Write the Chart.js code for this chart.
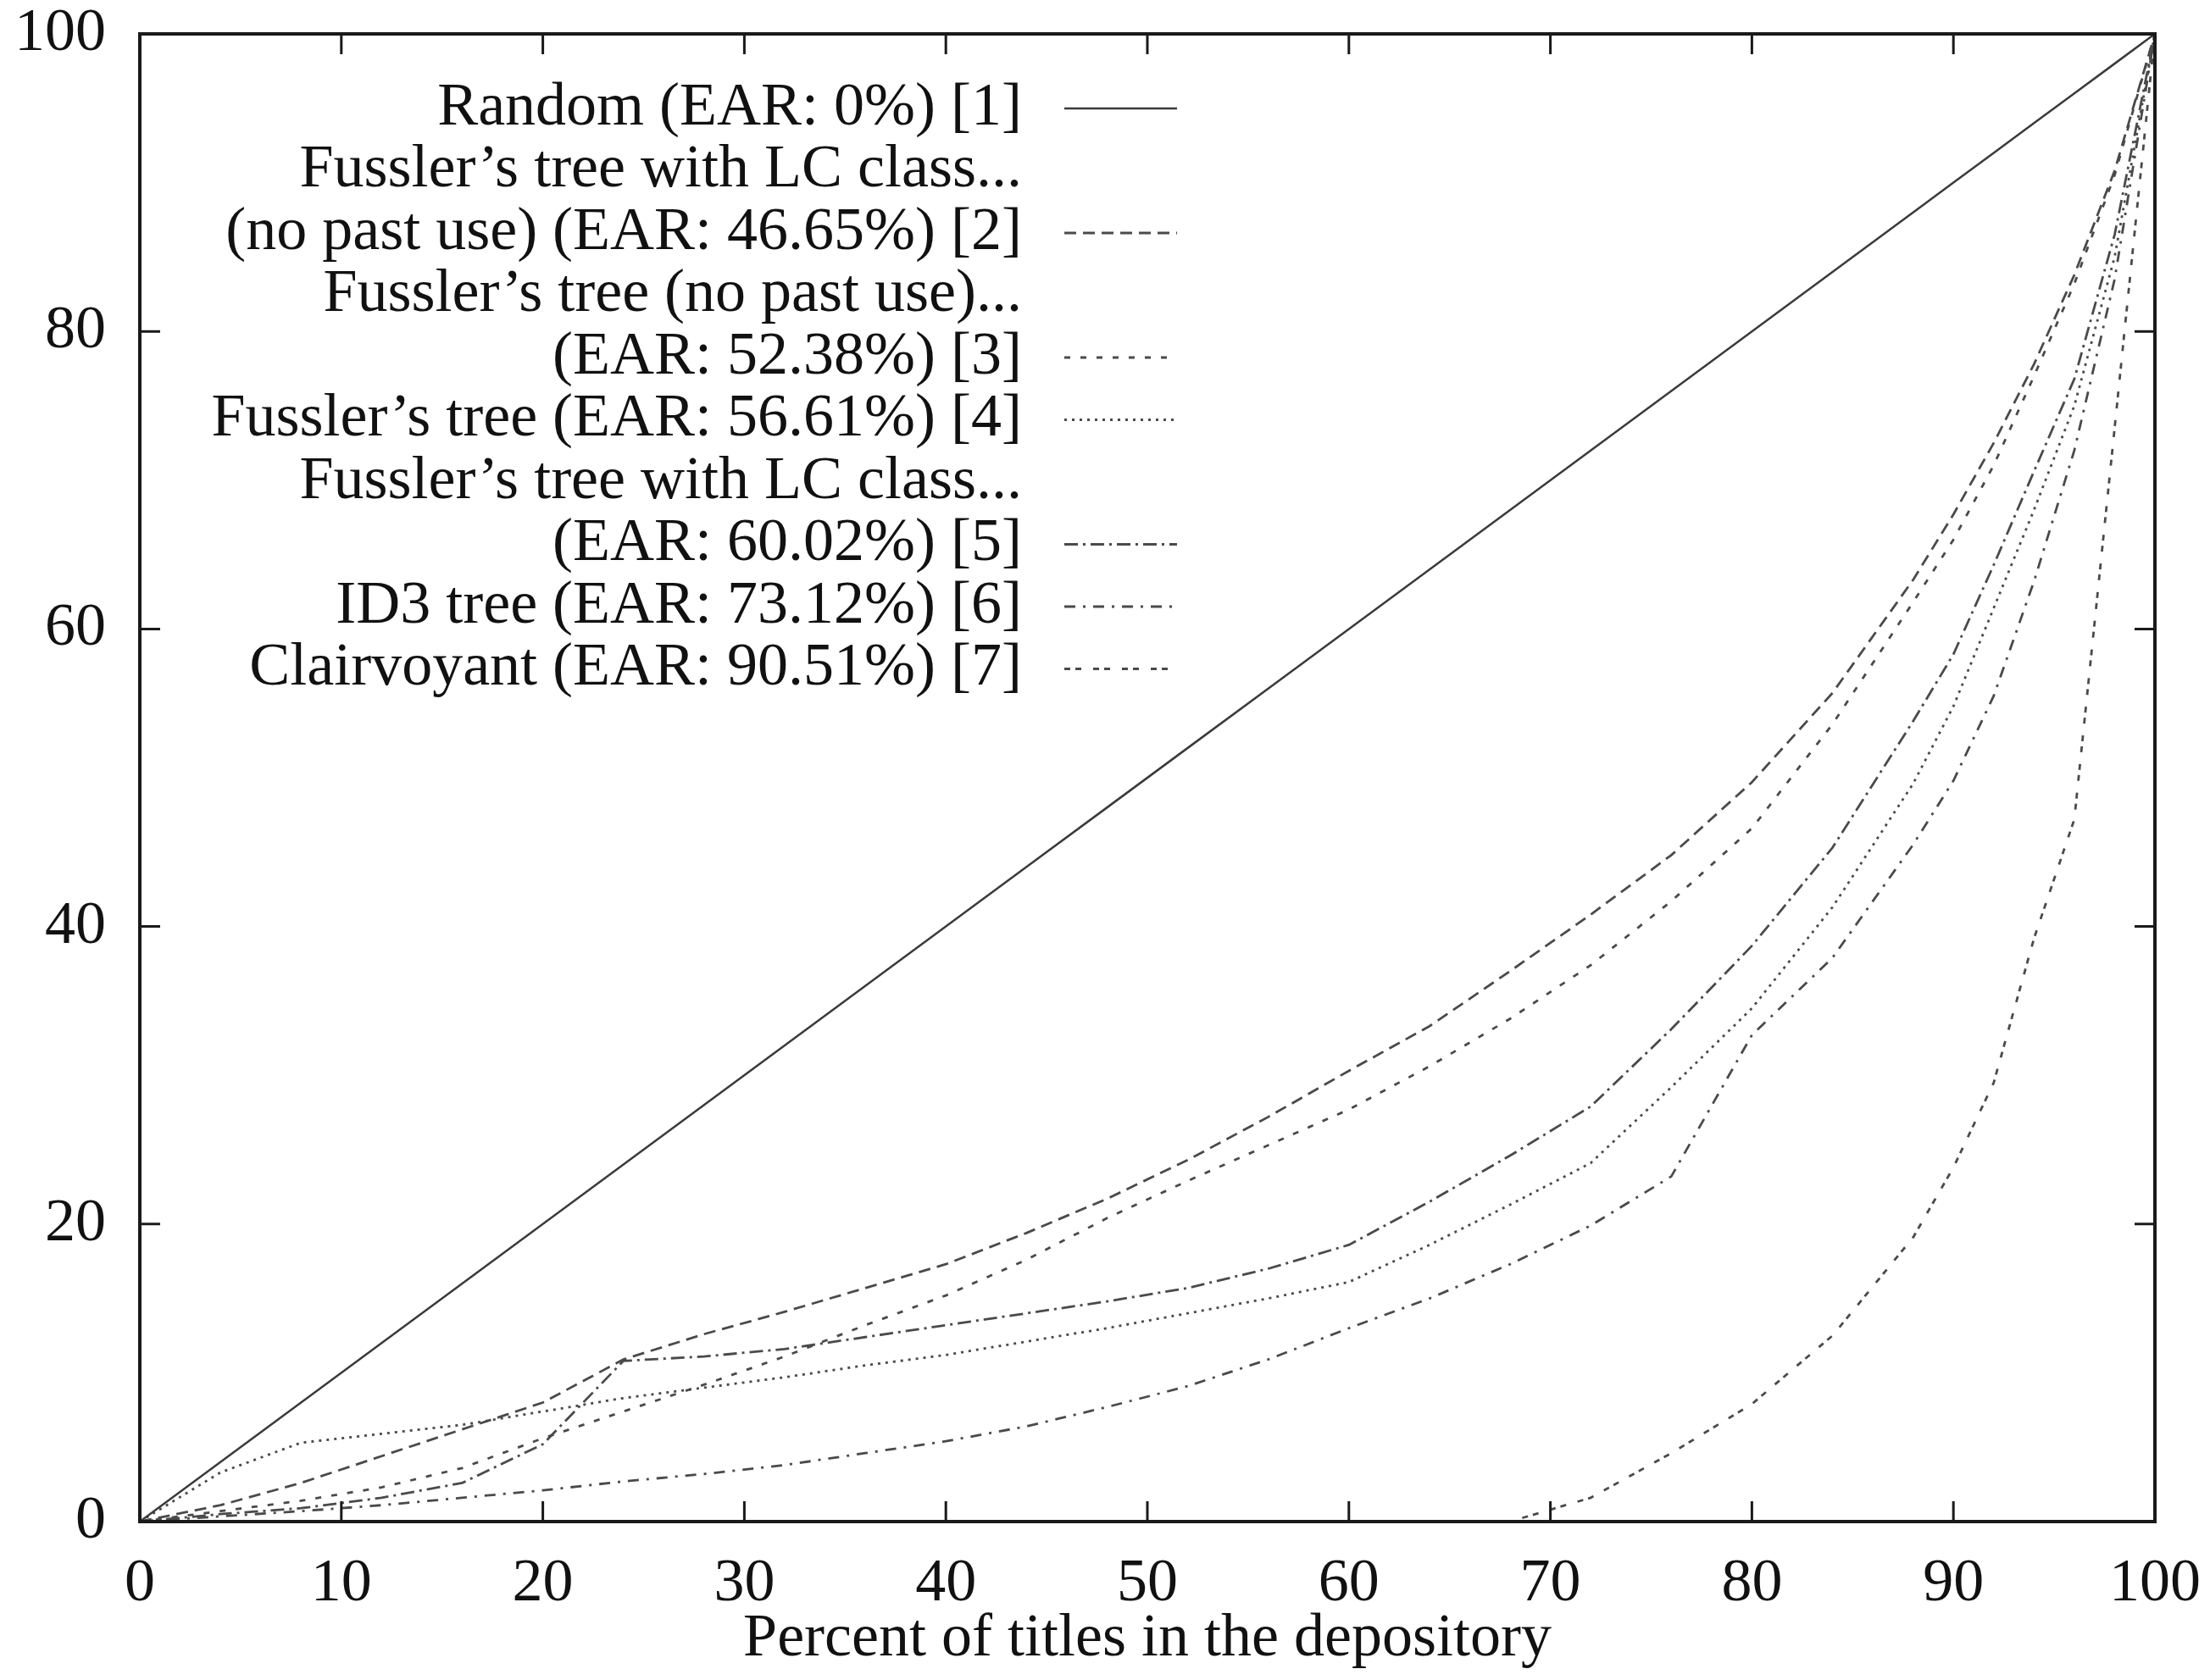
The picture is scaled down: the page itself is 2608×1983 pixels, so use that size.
<!DOCTYPE html>
<html>
<head>
<meta charset="utf-8">
<script src="https://cdn.jsdelivr.net/npm/chart.js@4.4.1/dist/chart.umd.min.js"></script>
<style>
  html, body { margin: 0; padding: 0; background: #fff; }
  #wrap { position: relative; width: 2608px; height: 1983px; }
</style>
</head>
<body>
<div id="wrap"><canvas id="chart" width="2608" height="1983"></canvas></div>
<script>
// ----- data (percent of titles vs. percent) -----
const xs = [0, 4, 8, 12, 16, 20, 24, 28, 32, 36, 40, 44, 48, 52, 56, 60, 64, 68, 72, 76, 80, 84, 88, 90, 92, 94, 96, 98, 100];

const random      = [0, 4, 8, 12, 16, 20, 24, 28, 32, 36, 40, 44, 48, 52, 56, 60, 64, 68, 72, 76, 80, 84, 88, 90, 92, 94, 96, 98, 100];
const lcNoPast    = [0, 1.1, 2.6, 4.4, 6.2, 8.0, 10.9, 12.6, 14.1, 15.7, 17.3, 19.4, 21.7, 24.3, 27.2, 30.3, 33.3, 37.0, 40.8, 44.8, 49.7, 55.7, 63.3, 67.7, 72.5, 77.8, 83.8, 90.8, 100];
const noPast      = [0, 0.7, 1.4, 2.3, 3.6, 5.6, 7.4, 9.2, 11.1, 13.2, 15.2, 17.6, 20.4, 22.9, 25.3, 27.7, 30.6, 33.8, 37.4, 41.7, 46.6, 53.6, 61.8, 66.0, 71.0, 77.0, 83.2, 90.5, 100];
const fussler     = [0, 3.3, 5.3, 5.9, 6.5, 7.4, 8.3, 9.0, 9.7, 10.5, 11.2, 12.1, 13.0, 14.0, 15.0, 16.1, 18.6, 21.3, 24.1, 29.2, 34.5, 41.3, 49.6, 54.8, 61.4, 68.0, 75.0, 85.0, 100];
const lcClass     = [0, 0.5, 0.9, 1.6, 2.6, 5.2, 10.8, 11.1, 11.6, 12.4, 13.2, 14.0, 14.8, 15.7, 17.0, 18.6, 21.5, 24.6, 27.9, 33.1, 38.7, 45.3, 53.8, 58.3, 64.3, 70.6, 76.8, 86.5, 100];
const id3         = [0, 0.35, 0.7, 1.1, 1.6, 2.1, 2.7, 3.2, 3.8, 4.6, 5.4, 6.4, 7.7, 9.1, 10.9, 13.0, 15.0, 17.3, 19.9, 23.2, 32.7, 37.9, 45.5, 49.8, 55.5, 63.2, 72.0, 83.5, 100];
const clairvoyant = [0, 0, 0, 0, 0, 0, 0, 0, 0, 0, 0, 0, 0, 0, 0, 0, 0, 0, 1.6, 4.6, 7.9, 12.5, 19.1, 23.8, 29.5, 39.2, 47.2, 73.5, 100];

const xTicks = [0, 10, 20, 30, 40, 50, 60, 70, 80, 90, 100];
const yTicks = [0, 20, 40, 60, 80, 100];

// key text, one entry per series (sample drawn next to the last line)
const keyText = [
    ['Random (EAR: 0%) [1]'],
    ['Fussler\u2019s tree with LC class...', '(no past use) (EAR: 46.65%) [2]'],
    ['Fussler\u2019s tree (no past use)...', '(EAR: 52.38%) [3]'],
    ['Fussler\u2019s tree (EAR: 56.61%) [4]'],
    ['Fussler\u2019s tree with LC class...', '(EAR: 60.02%) [5]'],
    ['ID3 tree (EAR: 73.12%) [6]'],
    ['Clairvoyant (EAR: 90.51%) [7]']
];

const FONT = "'Liberation Serif', 'Times New Roman', serif";
Chart.defaults.font.family = FONT;
Chart.defaults.font.size = 72;
Chart.defaults.color = '#111';

// line styles
const styles = [
    { dash: [],              color: '#3a3a3a', width: 2.5 },
    { dash: [14, 8],         color: '#4a4a4a', width: 2.8 },
    { dash: [7, 12],         color: '#4a4a4a', width: 2.8 },
    { dash: [3, 6],          color: '#4a4a4a', width: 2.8 },
    { dash: [16, 6, 3, 6],   color: '#4a4a4a', width: 2.8 },
    { dash: [13, 9, 3, 9],   color: '#4a4a4a', width: 2.8 },
    { dash: [7, 6, 7, 14],   color: '#4a4a4a', width: 2.8 }
];

const seriesValues = [random, lcNoPast, noPast, fussler, lcClass, id3, clairvoyant];

const datasets = seriesValues.map((vals, i) => ({
    label: keyText[i].join(' '),
    data: xs.map((x, j) => ({ x: x, y: vals[j] })),
    borderColor: styles[i].color,
    borderWidth: styles[i].width,
    borderDash: styles[i].dash,
    pointRadius: 0,
    tension: 0,
    fill: false
}));

// ------ frame with inward ticks on all four sides ------
const framePlugin = {
    id: 'frame',
    afterDatasetsDraw(chart) {
        const { ctx, chartArea: a, scales: { x, y } } = chart;
        const tl = 24;
        ctx.save();
        ctx.strokeStyle = '#1a1a1a';
        ctx.lineWidth = 3;
        ctx.setLineDash([]);
        ctx.beginPath();
        xTicks.forEach(v => {
            if (v <= x.min || v >= x.max) return;
            const px = x.getPixelForValue(v);
            ctx.moveTo(px, a.bottom); ctx.lineTo(px, a.bottom - tl);
            ctx.moveTo(px, a.top); ctx.lineTo(px, a.top + tl);
        });
        yTicks.forEach(v => {
            if (v <= y.min || v >= y.max) return;
            const py = y.getPixelForValue(v);
            ctx.moveTo(a.left, py); ctx.lineTo(a.left + tl, py);
            ctx.moveTo(a.right, py); ctx.lineTo(a.right - tl, py);
        });
        ctx.stroke();
        ctx.lineWidth = 4;
        ctx.strokeRect(a.left, a.top, a.right - a.left, a.bottom - a.top);
        ctx.restore();
    }
};

// ------ gnuplot-like key: right aligned text, sample line to the right ------
const keyPlugin = {
    id: 'key',
    afterDatasetsDraw(chart) {
        const { ctx, chartArea: a } = chart;
        const textRight = a.left + 1041;
        const sampleL = a.left + 1091;
        const sampleR = a.left + 1224;
        const step = 73.5;
        let rowY = a.top + 88;
        ctx.save();
        ctx.font = '72px ' + FONT;
        ctx.textAlign = 'right';
        ctx.textBaseline = 'middle';
        ctx.fillStyle = '#111';
        keyText.forEach((lines, i) => {
            lines.forEach((line, k) => {
                ctx.fillText(line, textRight, rowY);
                if (k === lines.length - 1) {
                    const ds = chart.data.datasets[i];
                    ctx.save();
                    ctx.strokeStyle = ds.borderColor;
                    ctx.lineWidth = ds.borderWidth;
                    ctx.setLineDash(ds.borderDash);
                    ctx.beginPath();
                    ctx.moveTo(sampleL, rowY);
                    ctx.lineTo(sampleR, rowY);
                    ctx.stroke();
                    ctx.restore();
                }
                rowY += step;
            });
        });
        ctx.restore();
    }
};

new Chart(document.getElementById('chart'), {
    type: 'line',
    data: { datasets: datasets },
    plugins: [framePlugin, keyPlugin],
    options: {
        responsive: false,
        animation: false,
        devicePixelRatio: 1,
        layout: { padding: { top: 40, right: 65, left: 0, bottom: 0 } },
        plugins: {
            legend: { display: false },
            tooltip: { enabled: false }
        },
        scales: {
            x: {
                type: 'linear',
                min: 0,
                max: 100,
                afterBuildTicks: (scale) => { scale.ticks = xTicks.map(v => ({ value: v })); },
                afterFit: (scale) => {
                    scale.height = 187;
                    scale.paddingLeft = 0;
                    scale.paddingRight = 0;
                },
                grid: { display: false },
                border: { display: false },
                ticks: {
                    padding: 30,
                    color: '#111',
                    font: { size: 72, lineHeight: 1 },
                    maxRotation: 0
                },
                title: {
                    display: true,
                    text: 'Percent of titles in the depository',
                    color: '#111',
                    font: { size: 72 },
                    padding: { top: 0, bottom: 5 }
                }
            },
            y: {
                type: 'linear',
                min: 0,
                max: 100,
                afterBuildTicks: (scale) => { scale.ticks = yTicks.map(v => ({ value: v })); },
                afterFit: (scale) => {
                    scale.width = 165;
                    scale.paddingTop = 0;
                    scale.paddingBottom = 0;
                },
                grid: { display: false },
                border: { display: false },
                ticks: {
                    padding: 32,
                    color: '#111',
                    font: { size: 72, lineHeight: 1 }
                }
            }
        }
    }
});
</script>
</body>
</html>
